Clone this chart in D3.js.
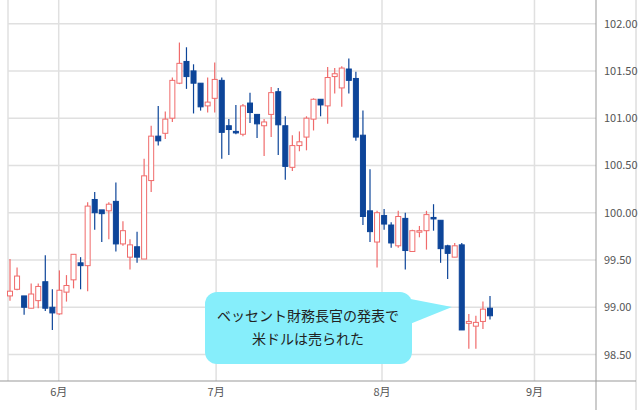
<!DOCTYPE html>
<html>
<head>
<meta charset="utf-8">
<script src="https://cdn.jsdelivr.net/npm/d3@7"></script>
<style>
  body { margin: 0; background: #fff; }
  text { font-family: "Noto Sans CJK JP", "Noto Sans", sans-serif; }
</style>
</head>
<body>
<svg id="chart" width="640" height="410"></svg>
<script>
// daily candles, late May to late Aug
const opens  = [99.12,99.19,99.12,98.99,99.07,99.27,99.00,98.93,99.16,99.29,99.47,99.44,100.14,100.03,100.02,100.12,99.67,99.53,99.64,99.51,
  100.34,100.81,100.84,101.00,101.37,101.60,101.50,101.37,101.13,101.21,101.40,100.92,100.86,100.83,101.16,101.04,100.92,101.04,101.28,100.92,
  100.48,100.71,100.80,100.99,101.20,101.13,101.44,101.32,101.52,101.42,100.82,100.02,99.69,99.97,99.87,99.65,99.94,99.59,99.80,99.81,
  99.95,99.92,99.65,99.53,99.66,98.83,98.80,98.85,98.99];
const highs  = [99.51,99.42,99.12,99.25,99.25,99.55,99.19,99.39,99.34,99.56,99.53,100.11,100.22,100.03,100.11,100.32,99.91,99.72,99.80,100.57,
  100.92,101.13,101.07,101.43,101.80,101.75,101.57,101.37,101.43,101.59,101.43,100.99,101.14,101.15,101.27,101.04,100.99,101.33,101.32,101.02,
  100.82,100.86,101.02,101.21,101.20,101.54,101.53,101.55,101.63,101.49,101.08,100.46,100.02,100.04,99.90,100.02,100.00,99.82,99.86,100.02,
  100.09,99.92,99.66,99.68,99.68,98.93,98.91,99.06,99.12];
const lows   = [99.07,99.18,98.92,98.99,98.99,98.96,98.76,98.92,99.06,99.20,99.19,99.17,99.82,99.69,99.72,99.59,99.65,99.40,99.47,99.51,
  100.22,100.71,100.78,100.96,101.36,101.31,101.05,101.08,101.06,101.06,100.57,100.61,100.83,100.81,100.95,100.79,100.60,100.80,100.61,100.35,
  100.44,100.65,100.66,100.87,101.02,100.94,101.26,101.12,101.26,100.76,99.87,99.69,99.42,99.82,99.63,99.63,99.40,99.59,99.74,99.61,
  99.81,99.47,99.30,99.53,98.76,98.56,98.56,98.77,98.87];
const closes = [99.17,99.33,99.00,99.14,99.22,98.99,98.94,99.18,99.23,99.56,99.44,100.07,100.00,99.99,100.09,99.67,99.81,99.66,99.53,100.39,
  100.81,100.76,100.99,101.40,101.58,101.44,101.37,101.12,101.17,101.41,100.85,100.88,100.85,101.13,101.06,100.94,100.96,101.27,100.93,100.49,
  100.71,100.75,101.00,101.20,101.14,101.43,101.47,101.53,101.40,100.80,99.96,99.80,100.00,99.88,99.68,99.96,99.60,99.81,99.81,99.98,
  99.94,99.62,99.57,99.65,98.76,98.85,98.84,98.98,98.91];
// month ticks, in candle-index units
const monthLabels = ["6月", "7月", "8月", "9月"];
const monthAt = [6.9, 29.2, 52.7, 74.3];
const yTicks = [98.5, 99, 99.5, 100, 100.5, 101, 101.5, 102];

const svg = d3.select("#chart");
const W = 596, H = 381;

const x = d3.scaleLinear().domain([0, opens.length - 1]).range([10, 490]);
const y = d3.scaleLinear().domain([98.22, 102.25]).range([H, 0]);

// grid
svg.append("g").selectAll("line").data(yTicks).join("line")
  .attr("x1", 8).attr("x2", W).attr("y1", d => y(d)).attr("y2", d => y(d))
  .attr("stroke", "#e0e0e0").attr("stroke-width", 1.5);
svg.append("g").selectAll("line").data(monthAt).join("line")
  .attr("x1", d => x(d)).attr("x2", d => x(d)).attr("y1", 0).attr("y2", H)
  .attr("stroke", "#e0e0e0").attr("stroke-width", 1.5);
svg.append("line").attr("x1", 8).attr("x2", 8).attr("y1", 0).attr("y2", H)
  .attr("stroke", "#e0e0e0").attr("stroke-width", 1.5);

// frame lines
svg.append("line").attr("x1", W).attr("x2", W).attr("y1", 0).attr("y2", 410).attr("stroke", "#999");
svg.append("line").attr("x1", 636).attr("x2", 636).attr("y1", 0).attr("y2", 410).attr("stroke", "#ccc");
svg.append("line").attr("x1", 0).attr("x2", 636).attr("y1", H).attr("y2", H).attr("stroke", "#999");

// axis labels
svg.append("g").selectAll("text").data(yTicks).join("text")
  .attr("x", 604).attr("y", d => y(d) + 4)
  .attr("font-size", 11).attr("fill", "#555")
  .text(d => d.toFixed(2));
svg.append("g").selectAll("text").data(monthLabels).join("text")
  .attr("x", (d, i) => x(monthAt[i])).attr("y", 396)
  .attr("text-anchor", "middle").attr("font-size", 11).attr("fill", "#555")
  .text(d => d);

// candles
const idx = d3.range(opens.length);
const up = i => closes[i] >= opens[i];
const red = "#f06b6b", blue = "#0d4599";
const bw = 5;

const c = svg.append("g").selectAll("g").data(idx).join("g");
c.append("line")
  .attr("x1", i => x(i)).attr("x2", i => x(i))
  .attr("y1", i => y(highs[i])).attr("y2", i => y(lows[i]))
  .attr("stroke", i => up(i) ? red : blue).attr("stroke-width", 1.2);
c.append("rect")
  .attr("x", i => x(i) - bw / 2)
  .attr("y", i => y(Math.max(opens[i], closes[i])))
  .attr("width", bw)
  .attr("height", i => Math.max(1.5, Math.abs(y(opens[i]) - y(closes[i]))))
  .attr("fill", i => up(i) ? "#fff" : blue)
  .attr("stroke", i => up(i) ? red : blue).attr("stroke-width", 1);

// callout
const note = svg.append("g");
note.append("path")
  .attr("d", "M395,296 L452,307 L395,330 Z")
  .attr("fill", "#86eefb");
note.append("rect")
  .attr("x", 205).attr("y", 292).attr("width", 207).attr("height", 72).attr("rx", 12)
  .attr("fill", "#86eefb");
note.append("text").attr("x", 308).attr("y", 321).attr("text-anchor", "middle")
  .attr("font-size", 14).attr("fill", "#222").text("ベッセント財務長官の発表で");
note.append("text").attr("x", 308).attr("y", 344).attr("text-anchor", "middle")
  .attr("font-size", 14).attr("fill", "#222").text("米ドルは売られた");
</script>
</body>
</html>
